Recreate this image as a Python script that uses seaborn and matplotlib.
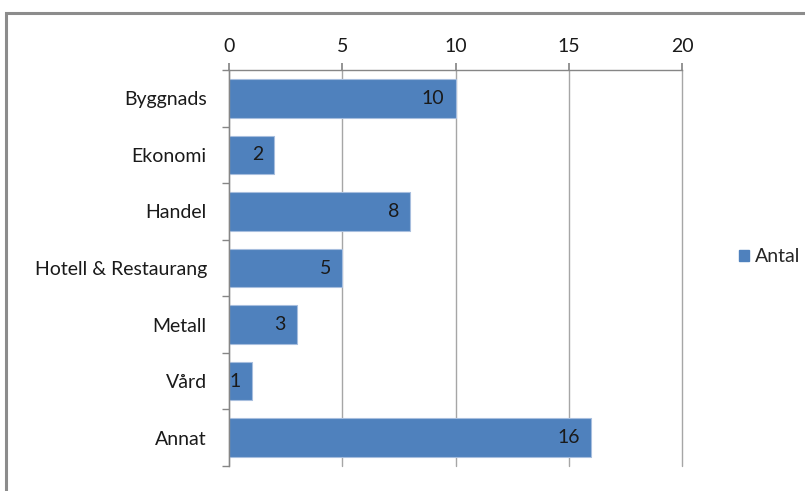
import matplotlib
matplotlib.use("Agg")
import matplotlib.pyplot as plt
import seaborn as sns
import pandas as pd
from matplotlib.patches import Rectangle, Patch

categories = ["Byggnads", "Ekonomi", "Handel", "Hotell & Restaurang", "Metall", "Vård", "Annat"]
values = [10, 2, 8, 5, 3, 1, 16]
xticks = [0, 5, 10, 15, 20]
series_name = "Antal"

sns.set_theme(style="white")
plt.rcParams['font.family'] = ['Lato', 'DejaVu Sans']

df = pd.DataFrame({"Kategori": categories, series_name: values})

fig = plt.figure(figsize=(8.05, 4.91), dpi=100)
ax = fig.add_axes([229/805, 1-466/491, (682-229)/805, (466-70)/491])

color = "#4F81BD"
sns.barplot(data=df, x=series_name, y="Kategori", color=color, width=0.68,
            orient="h", ax=ax, saturation=1, edgecolor="#A7BEDE", linewidth=0.8)

fs = 14
ax.set_xlim(0, 20)
ax.set_ylim(len(categories)-0.5, -0.5)
ax.set_xticks(xticks)
ax.xaxis.tick_top()
ax.tick_params(axis='x', which='major', direction='out', length=5, color='#868686',
               labelsize=fs, labelcolor='#1a1a1a', pad=6, top=True, bottom=False)
ax.set_xlabel("")
ax.set_ylabel("")
ax.grid(axis='x', color='#A6A6A6', linewidth=1)
for gl in ax.get_xgridlines():
    gl.set_clip_on(False)
ax.set_axisbelow(True)

ax.set_yticks(range(len(categories)))
ax.set_yticklabels(categories)
ax.tick_params(axis='y', which='major', length=0, labelsize=fs, labelcolor='#1a1a1a', pad=16)
ax.set_yticks([i - 0.5 for i in range(len(categories)+1)], minor=True)
ax.tick_params(axis='y', which='minor', length=5, color='#868686', direction='out', left=True)

for s in ['right', 'bottom']:
    ax.spines[s].set_visible(False)
for s in ['left', 'top']:
    ax.spines[s].set_visible(True)
    ax.spines[s].set_color('#868686')
    ax.spines[s].set_linewidth(1)

for i, v in enumerate(values):
    ax.annotate(str(v), xy=(v, i), xytext=(-8, 0), textcoords='offset points',
                ha='right', va='center', fontsize=fs, color='#1a1a1a')

handles = [Patch(facecolor=color, edgecolor=color, label=series_name)]
fig.legend(handles=handles, loc='center left', bbox_to_anchor=(729/805, 1-257/491),
           frameon=False, fontsize=fs, handlelength=0.55, handleheight=0.55,
           handletextpad=0.3, borderpad=0)

# chart border
fig.patches.append(Rectangle((6/805, -0.1), 1.2, 1-13/491+0.1, transform=fig.transFigure,
                             fill=False, edgecolor='#8C8C8C', linewidth=2.2, zorder=10))

fig.savefig("out.png", dpi=100)
